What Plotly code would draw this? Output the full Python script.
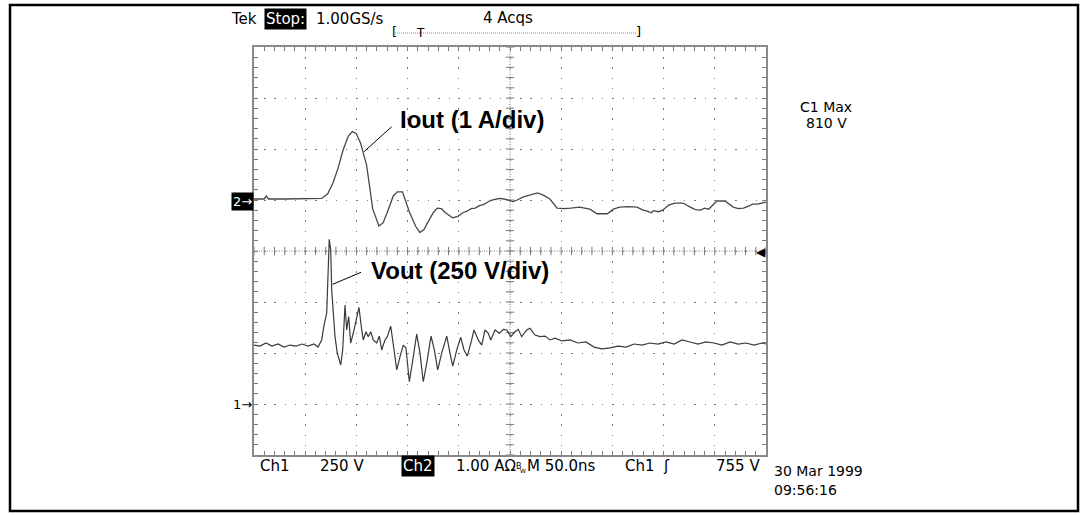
import numpy as np
import plotly.graph_objects as go

# ---------------- data ----------------
# time in ns (50 ns/div, 10 div)
t_iout = [0, 10, 12, 14, 30, 50, 66, 72, 77, 82, 87, 92, 96, 100, 104, 110, 116, 122, 126, 130,
          136, 140, 145, 152, 158, 162, 166, 170, 175, 179, 183, 187, 194, 199, 204, 208, 212, 216,
          220, 224, 228, 231, 235, 240, 244, 249, 253, 257, 263, 270, 277, 283, 289, 296, 303, 309,
          318, 328, 335, 345, 351, 357, 366, 374, 380, 384, 388, 390, 395, 399, 405, 411, 419, 426,
          431, 436, 440, 444, 452, 460, 468, 473, 478, 483, 487, 492, 497, 500]
iout_a = [0.02, 0.02, 0.08, 0.02, 0.02, 0.02, 0.03, 0.12, 0.33, 0.62, 0.98, 1.25, 1.34, 1.30, 1.12,
          0.68, -0.18, -0.51, -0.45, -0.25, 0.08, 0.16, 0.16, -0.25, -0.52, -0.64, -0.58, -0.43,
          -0.25, -0.16, -0.17, -0.25, -0.35, -0.32, -0.25, -0.22, -0.17, -0.16, -0.11, -0.09, -0.05,
          -0.01, 0.01, 0.03, 0.02, 0.0, -0.03, 0.0, 0.06, 0.10, 0.14, 0.09, 0.02, -0.16, -0.17, -0.16,
          -0.14, -0.18, -0.27, -0.27, -0.18, -0.14, -0.13, -0.14, -0.20, -0.22, -0.25, -0.21, -0.23,
          -0.20, -0.10, -0.06, -0.06, -0.14, -0.19, -0.20, -0.16, -0.18, -0.02, -0.02, -0.14, -0.17,
          -0.16, -0.12, -0.08, -0.08, -0.06, -0.04]

t_vout = [0, 5.9, 11.7, 17.6, 23.4, 29.3, 35.2, 41.0, 46.9, 52.7, 58.6, 62.5, 66.1, 68.4, 71.0, 72.3,
          73.5, 74.9, 75.9, 79.1, 81.3, 84.7, 86.6, 88.9, 90.5, 92.5, 94.4, 97.0, 99.6, 102.5, 105.2,
          106.7, 109.4, 111.6, 114.0, 116.5, 119.8, 122.4, 124.7, 127.9, 130.2, 133.5, 136.1, 139.4,
          142.6, 145.8, 148.4, 151.7, 155.6, 158.9, 162.1, 165.3, 168.7, 172.9, 176.1, 179.4, 183.3,
          188.2, 191.4, 194.1, 198.0, 201.9, 205.1, 208.3, 212.6, 214.8, 219.0, 222.4, 225.6, 228.8,
          231.2, 235.4, 239.6, 243.5, 246.8, 250.7, 254.9, 258.1, 261.4, 266.3, 269.5, 274.4, 279.3,
          284.2, 289.1, 294, 300.8, 308.6, 316.4, 324.2, 332, 339.9, 347.7, 355.5, 363.3, 371.1,
          378.9, 386.7, 394.5, 402.4, 410.2, 418, 425.8, 433.6, 441.4, 449.2, 457, 464.9, 472.7,
          480.5, 488.3, 496.1, 500]
vout_v = [289, 284, 299, 284, 294, 279, 289, 284, 294, 284, 294, 279, 314, 387, 446, 657, 807, 755,
          559, 330, 250, 191, 265, 485, 363, 428, 299, 348, 412, 474, 363, 314, 354, 330, 354, 314,
          299, 333, 265, 314, 330, 382, 289, 167, 232, 289, 275, 109, 232, 343, 249, 109, 200, 333,
          265, 167, 249, 333, 249, 186, 265, 327, 265, 235, 314, 363, 314, 289, 363, 347, 314, 363,
          347, 366, 363, 330, 354, 366, 330, 363, 371, 338, 330, 333, 314, 323, 309, 314, 299, 304,
          279, 270, 275, 284, 279, 294, 289, 299, 294, 304, 294, 314, 304, 294, 304, 299, 289, 304,
          294, 299, 289, 299, 294]

# channel settings (divisions)
ch2_scale_a = 1.0     # A/div
ch2_ref_div = 1.0
ch1_scale_v = 250.0   # V/div
ch1_ref_div = -3.0

x_range = [0, 500]
y_range = [-4, 4]

# ---------------- layout geometry ----------------
L, T, W, H = 254, 47, 512, 408          # graticule position in pixels
FW, FH = 1084, 515


def px(x):
    return (x - L) / W


def py(y):
    return (T + H - y) / H


iout_div = [ch2_ref_div + v / ch2_scale_a for v in iout_a]
vout_div = [ch1_ref_div + v / ch1_scale_v for v in vout_v]

GRID = "#7a7a7a"
TRACE = "#3a3a3a"
SCOPE_FONT = "DejaVu Sans"

fig = go.Figure()

# center-cross tick marks of the graticule
xt = np.arange(x_range[0], x_range[1] + 0.1, 10)
yt = np.arange(y_range[0], y_range[1] + 0.01, 0.2)
fig.add_trace(go.Scatter(x=xt, y=np.zeros_like(xt), mode="markers", hoverinfo="skip",
                         marker=dict(symbol="line-ns", size=6, line=dict(width=1, color=GRID))))
fig.add_trace(go.Scatter(x=np.full_like(yt, 250.0), y=yt, mode="markers", hoverinfo="skip",
                         marker=dict(symbol="line-ew", size=6, line=dict(width=1, color=GRID))))

fig.add_trace(go.Scatter(x=t_iout, y=iout_div, mode="lines", name="Iout",
                         line=dict(color="#484848", width=1.3)))
fig.add_trace(go.Scatter(x=t_vout, y=vout_div, mode="lines", name="Vout",
                         line=dict(color=TRACE, width=1.2)))

axis_common = dict(showticklabels=False, zeroline=False, showline=True, linecolor="#8a8a8a",
                   linewidth=2, mirror="allticks", ticks="inside", ticklen=4, tickcolor=GRID,
                   showgrid=True, gridcolor=GRID, gridwidth=1.2, fixedrange=True)

fig.update_xaxes(range=x_range, dtick=50, tick0=0, griddash="1.3px,8.9px",
                 minor=dict(dtick=10, ticks="inside", ticklen=4, tickcolor=GRID, showgrid=False),
                 **axis_common)
fig.update_yaxes(range=y_range, dtick=1, tick0=0, griddash="1.3px,8.94px",
                 minor=dict(dtick=0.2, ticks="inside", ticklen=4, tickcolor=GRID, showgrid=False),
                 **axis_common)

shapes = [
    # centre lines
    dict(type="line", xref="x", yref="y", x0=x_range[0], x1=x_range[1], y0=0, y1=0,
         line=dict(color=GRID, width=1, dash="1px,1.5px")),
    dict(type="line", xref="x", yref="y", x0=250, x1=250, y0=y_range[0], y1=y_range[1],
         line=dict(color=GRID, width=1, dash="1px,1.5px")),
    # record bracket line
    dict(type="line", xref="paper", yref="paper", x0=px(395), x1=px(636), y0=py(33), y1=py(33),
         line=dict(color="#888888", width=1, dash="1px,1px")),
    # leader lines
    dict(type="line", xref="paper", yref="paper", x0=px(364), y0=py(151.7), x1=px(391.7),
         y1=py(126.7), line=dict(color="black", width=1)),
    dict(type="line", xref="paper", yref="paper", x0=px(332.7), y0=py(284.3), x1=px(361),
         y1=py(272.3), line=dict(color="black", width=1)),
    # outer frame
    dict(type="rect", xref="paper", yref="paper", x0=px(10), x1=px(1078), y0=py(5), y1=py(511),
         line=dict(color="black", width=2.5)),
]


def ann(text, x, y, xanchor="left", size=15, color="black", bg=None, family=SCOPE_FONT):
    d = dict(text=text, xref="paper", yref="paper", x=px(x), y=py(y), xanchor=xanchor,
             yanchor="middle", showarrow=False, font=dict(family=family, size=size, color=color))
    if bg:
        d["bgcolor"] = bg
        d["borderpad"] = 1
    return d


annotations = [
    ann("Tek", 229, 19),
    ann("Stop:", 264, 19, color="white", bg="black"),
    ann("1.00GS/s", 314, 19),
    ann("4 Acqs", 481, 18),
    ann("[", 390, 32, size=13),
    ann("]", 634, 32, size=13),
    ann("T", 420, 33, xanchor="center", size=12),
    ann("C1 Max", 826, 107, xanchor="center", size=14),
    ann("810 V", 826, 123, xanchor="center", size=14),
    ann("<b>Iout (1 A/div)</b>", 398, 119, size=24, family="Liberation Sans"),
    ann("<b>Vout (250 V/div)</b>", 369, 270, size=24, family="Liberation Sans"),
    ann("2→", 254, 201, xanchor="right", size=13, color="white", bg="black"),
    ann("1→", 254, 404, xanchor="right", size=13),
    ann("◀", 768, 252, xanchor="right", size=12),
    ann("Ch1", 258, 466),
    ann("250 V", 318, 466),
    ann("Ch2", 401, 466, color="white", bg="black"),
    ann("1.00 AΩ", 454, 466),
    ann("B", 514, 467, size=8),
    ann("W", 518, 470, size=6),
    ann("M 50.0ns", 525, 466),
    ann("Ch1", 623, 466),
    ann("ʃ", 661, 466),
    ann("755 V", 762, 466, xanchor="right"),
    ann("30 Mar 1999", 772, 471, size=14),
    ann("09:56:16", 772, 490, size=14),
]

fig.update_layout(width=FW, height=FH,
                  margin=dict(l=L, r=FW - L - W, t=T, b=FH - T - H),
                  paper_bgcolor="white", plot_bgcolor="white", showlegend=False,
                  shapes=shapes, annotations=annotations)

fig.write_html("out.html", config={"displayModeBar": False},
               post_script="document.body.style.margin='0';document.body.style.overflow='hidden';")
